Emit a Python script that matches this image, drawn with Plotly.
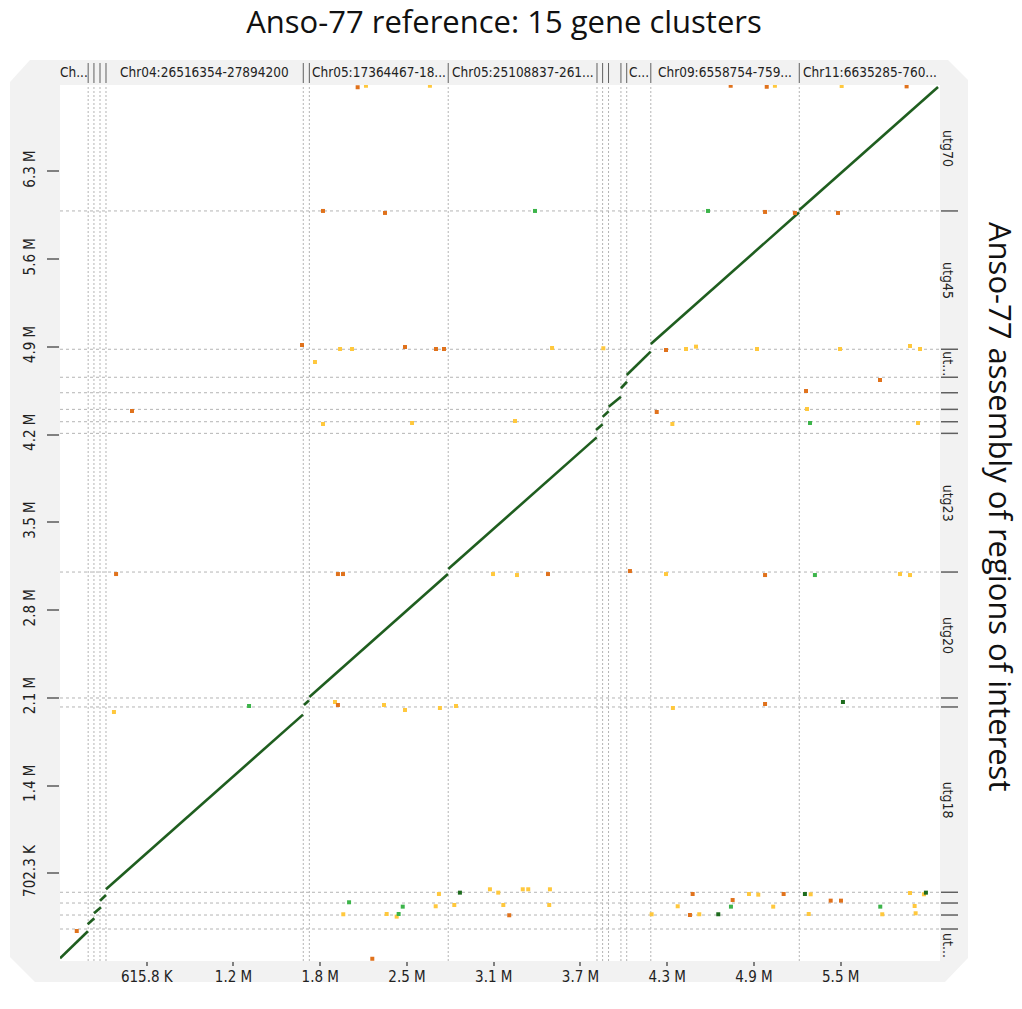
import plotly.graph_objects as go

# ---------------- data ----------------
# column (reference cluster) boundaries, bp
x_bounds = [0, 200e3, 241e3, 284e3, 326.5e3, 1727e3, 1770e3, 2756e3, 3812e3, 3852e3,
            3894e3, 3982e3, 4023e3, 4194e3, 5248e3, 6247e3]
x_labels = ["Ch...", "", "", "", "Chr04:26516354-27894200", "", "Chr05:17364467-18...",
            "Chr05:25108837-261...", "", "", "", "", "C...", "Chr09:6558754-759...",
            "Chr11:6635285-760..."]
# row (assembly contig) boundaries, bp
y_bounds = [0, 256e3, 368e3, 464e3, 550e3, 2033e3, 2105e3, 3113e3, 4223e3, 4316e3,
            4415e3, 4548e3, 4672e3, 4896e3, 6003e3, 7011e3]
y_labels = ["ut...", "", "", "", "utg18", "", "utg20", "utg23", "", "", "", "",
            "ut...", "utg45", "utg70"]

x_tickvals = [615.8e3 * k for k in range(1, 10)]
x_ticktext = ["615.8 K", "1.2 M", "1.8 M", "2.5 M", "3.1 M", "3.7 M", "4.3 M", "4.9 M", "5.5 M"]
y_tickvals = [702.3e3 * k for k in range(1, 10)]
y_ticktext = ["702.3 K", "1.4 M", "2.1 M", "2.8 M", "3.5 M", "4.2 M", "4.9 M", "5.6 M", "6.3 M"]

# main alignments (x start, x end, y start, y end)
seg_x0 = [0, 196.6e3, 241.4e3, 284e3, 326.5e3, 1732e3, 1770e3, 2756e3, 3805e3, 3852e3, 3895e3, 3982e3, 4023e3, 4194e3, 5248e3]
seg_x1 = [198e3, 243.5e3, 291e3, 326.5e3, 1725e3, 1767e3, 2754e3, 3810e3, 3852e3, 3895e3, 3982e3, 4025e3, 4193e3, 5246e3, 6233e3]
seg_y0 = [22e3, 293.7e3, 381.8e3, 482.6e3, 573.8e3, 2049e3, 2113e3, 3137e3, 4250e3, 4355e3, 4436e3, 4584e3, 4690e3, 4938e3, 6010e3]
seg_y1 = [238e3, 341.7e3, 429.8e3, 528.2e3, 1972e3, 2085e3, 3097e3, 4191e3, 4295e3, 4400e3, 4516e3, 4636e3, 4877e3, 5990e3, 6995e3]

# small matches: x, y (bp) and identity class (0: <25%, 1: 25-50%, 2: 50-75%, 3: >75%)
dot_x = [2113e3, 2172e3, 2626e3, 4761e3, 5017e3, 5075e3, 5549e3, 6010e3,
         1867e3, 2307e3, 3372e3, 4600e3, 5005e3, 5217e3, 5523e3,
         1718e3, 1988e3, 2073e3, 2449e3, 2669e3, 2726e3, 3493e3, 3857e3, 4302e3, 4444e3, 4515e3, 4948e3, 5537e3, 6034e3, 6105e3,
         511e3, 1810e3, 1867e3, 2499e3, 3230e3, 4236e3, 4347e3, 5296e3, 5303e3, 5324e3, 5821e3, 6091e3,
         398e3, 1973e3, 2009e3, 3074e3, 3244e3, 3464e3, 4046e3, 4302e3, 5005e3, 5359e3, 5963e3, 6034e3,
         1342e3, 1952e3, 1973e3, 2300e3, 2449e3, 2697e3, 2811e3, 383e3, 4351e3, 5005e3, 5558e3,
         119e3, 2011e3, 2052e3, 2319e3, 2390e3, 2404e3, 2433e3, 2667e3, 2690e3, 2799e3, 2839e3, 3052e3, 3111e3,
         3147e3, 3189e3, 3285e3, 3324e3, 3478e3, 3473e3, 4200e3, 4385e3, 4472e3, 4491e3, 4538e3, 4673e3, 4763e3,
         4775e3, 4891e3, 4957e3, 5063e3, 5137e3, 5288e3, 5329e3, 5315e3, 5471e3, 5544e3, 5823e3, 5837e3, 6034e3,
         6067e3, 6074e3, 6133e3, 6147e3, 2217e3]
dot_y = [6993e3, 7005e3, 7005e3, 7005e3, 6997e3, 7005e3, 7003e3, 7000e3,
         6003e3, 5987e3, 6003e3, 6003e3, 5995e3, 5987e3, 5987e3,
         4930e3, 4898e3, 4898e3, 4914e3, 4898e3, 4898e3, 4906e3, 4904e3, 4890e3, 4898e3, 4917e3, 4898e3, 4898e3, 4922e3, 4898e3,
         4402e3, 4794e3, 4298e3, 4306e3, 4322e3, 4394e3, 4298e3, 4562e3, 4418e3, 4306e3, 4650e3, 4306e3,
         3097e3, 3097e3, 3097e3, 3097e3, 3089e3, 3097e3, 3121e3, 3097e3, 3089e3, 3089e3, 3097e3, 3089e3,
         2041e3, 2073e3, 2049e3, 2049e3, 2009e3, 2025e3, 2041e3, 1993e3, 2025e3, 2057e3, 2073e3,
         240e3, 374e3, 470e3, 376e3, 355e3, 376e3, 435e3, 438e3, 536e3, 448e3, 547e3, 574e3, 547e3,
         448e3, 366e3, 574e3, 574e3, 574e3, 448e3, 374e3, 438e3, 368e3, 536e3, 374e3, 374e3, 435e3,
         488e3, 536e3, 531e3, 435e3, 536e3, 536e3, 534e3, 376e3, 483e3, 483e3, 435e3, 374e3, 544e3,
         440e3, 382e3, 534e3, 547e3, 18e3]
dot_c = [1, 0, 0, 1, 1, 0, 0, 1,
         1, 1, 2, 2, 1, 1, 1,
         1, 0, 0, 1, 1, 1, 0, 0, 1, 0, 0, 0, 0, 0, 0,
         1, 0, 0, 0, 0, 1, 0, 1, 0, 2, 1, 0,
         1, 1, 1, 0, 0, 1, 1, 0, 1, 2, 0, 0,
         2, 0, 1, 0, 0, 0, 0, 0, 0, 1, 3,
         1, 0, 2, 0, 0, 2, 2, 0, 0, 0, 3, 0, 0,
         0, 1, 0, 0, 0, 0, 0, 0, 1, 1, 0, 3, 2,
         1, 0, 0, 0, 1, 3, 0, 0, 1, 1, 2, 0, 0,
         0, 0, 0, 3, 1]
class_colors = ["#ffc83d", "#e0721c", "#3cb44a", "#1d6b1d"]

# ---------------- geometry ----------------
W, H = 1022, 1009
L, R, T, B = 60, 82, 85, 48
PW, PH = W - L - R, H - T - B
XMAX, YMAX = x_bounds[-1], y_bounds[-1]


def px2paper_x(px):
    return (px - L) / PW


def py2paper_y(py):
    return (H - B - py) / PH


NARROW = "Liberation Sans Narrow, Arial Narrow, DejaVu Sans Condensed, sans-serif"
TITLEF = "Open Sans, Lato, sans-serif"

fig = go.Figure()

# main alignment segments
lx, ly = [], []
for a, b, c, d in zip(seg_x0, seg_x1, seg_y0, seg_y1):
    lx += [a, b, None]
    ly += [c, d, None]
fig.add_trace(go.Scatter(x=lx, y=ly, mode="lines", line=dict(color="#1f5e1f", width=2.6),
                         hoverinfo="skip", showlegend=False))

# small matches
for k, col in enumerate(class_colors):
    xs = [x for x, c in zip(dot_x, dot_c) if c == k]
    ys = [y for y, c in zip(dot_y, dot_c) if c == k]
    fig.add_trace(go.Scatter(x=xs, y=ys, mode="markers",
                             marker=dict(color=col, size=4, symbol="square", line=dict(width=0)),
                             showlegend=False, cliponaxis=True))

shapes = []
# grey octagonal frame
pts = [(30, 60), (948, 60), (968, 80), (968, 958), (945, 982), (35, 982), (10, 957), (10, 82)]
path = "M " + " L ".join(f"{px2paper_x(p[0])},{py2paper_y(p[1])}" for p in pts) + " Z"
shapes.append(dict(type="path", path=path, xref="paper", yref="paper",
                   fillcolor="#f2f2f2", line=dict(width=0), layer="below"))
# white plotting area
shapes.append(dict(type="rect", xref="paper", yref="paper", x0=0, x1=1, y0=0, y1=1,
                   fillcolor="white", line=dict(width=0), layer="below"))

for xb in x_bounds[1:-1]:
    shapes.append(dict(type="line", xref="x", yref="paper", x0=xb, x1=xb, y0=0, y1=1,
                       line=dict(color="#b4b4b4", width=1, dash="2px,2px"), layer="below"))
    shapes.append(dict(type="line", xref="x", yref="paper", x0=xb, x1=xb,
                       y0=py2paper_y(83), y1=py2paper_y(63),
                       line=dict(color="#606060", width=1)))
for yb in y_bounds[1:-1]:
    shapes.append(dict(type="line", xref="paper", yref="y", x0=0, x1=1, y0=yb, y1=yb,
                       line=dict(color="#b4b4b4", width=1, dash="3px,3px"), layer="below"))
    shapes.append(dict(type="line", xref="paper", yref="y", y0=yb, y1=yb,
                       x0=px2paper_x(941), x1=px2paper_x(958),
                       line=dict(color="#606060", width=1.5)))

annotations = []
for i, lab in enumerate(x_labels):
    if lab:
        annotations.append(dict(x=(x_bounds[i] + x_bounds[i + 1]) / 2, xref="x",
                                y=py2paper_y(72), yref="paper", text=lab, showarrow=False,
                                font=dict(family=NARROW, size=13.5, color="#222"),
                                xanchor="center", yanchor="middle"))
for i, lab in enumerate(y_labels):
    if lab:
        annotations.append(dict(y=(y_bounds[i] + y_bounds[i + 1]) / 2, yref="y",
                                x=px2paper_x(948), xref="paper", text=lab, showarrow=False,
                                textangle=90,
                                font=dict(family=NARROW, size=14, color="#222"),
                                xanchor="center", yanchor="middle"))
annotations.append(dict(x=px2paper_x(1001), y=py2paper_y(506), xref="paper", yref="paper",
                        text="Anso-77 assembly of regions of interest", showarrow=False,
                        textangle=90, font=dict(family=TITLEF, size=31, color="#111"),
                        xanchor="center", yanchor="middle"))

fig.update_layout(
    width=W, height=H,
    margin=dict(l=L, r=R, t=T, b=B, pad=0),
    paper_bgcolor="white", plot_bgcolor="rgba(0,0,0,0)",
    title=dict(text="Anso-77 reference: 15 gene clusters", x=504 / W, xanchor="center",
               y=1 - 22 / H, yanchor="middle", yref="container",
               font=dict(family=TITLEF, size=31, color="#111")),
    shapes=shapes, annotations=annotations,
    xaxis=dict(range=[0, XMAX], showgrid=False, zeroline=False, showline=False,
               tickvals=x_tickvals, ticktext=x_ticktext, ticks="outside", ticklen=4,
               tickcolor="#808080", tickwidth=2, ticklabelstandoff=-2,
               tickfont=dict(family=NARROW, size=15, color="#222")),
    yaxis=dict(range=[0, YMAX], showgrid=False, zeroline=False, showline=False,
               tickvals=y_tickvals, ticktext=y_ticktext, ticks="outside", ticklen=12,
               tickcolor="#808080", tickwidth=2, tickangle=-90, ticklabelstandoff=6,
               tickfont=dict(family=NARROW, size=15, color="#222")),
)

fig.write_html("out.html")
